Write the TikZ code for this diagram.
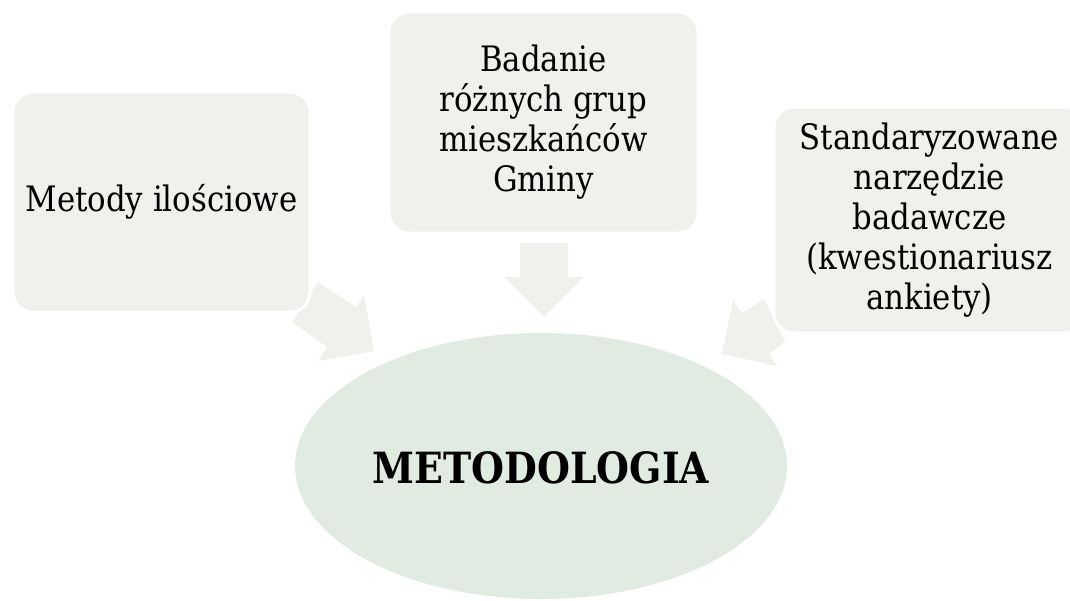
\documentclass[tikz,border=0pt]{standalone}
\usepackage{fontspec}
\setmainfont{DejaVu Serif}[FakeStretch=0.88]
\usetikzlibrary{shapes.geometric}
\definecolor{boxfill}{RGB}{240,240,236}
\definecolor{ovalfill}{RGB}{225,235,226}
\tikzset{
  box/.style={rectangle, rounded corners=20pt, fill=boxfill, draw=white, line width=3pt,
    align=center, inner sep=0pt, font=\fontsize{35}{40}\selectfont},
  blockarrow/.style={fill=boxfill, draw=none},
  oval/.style={ellipse, fill=ovalfill, draw=none, inner sep=0pt},
  ovaltext/.style={font=\fontsize{43}{48}\selectfont\bfseries}
}
\begin{document}
\begin{tikzpicture}[x=1pt,y=-1pt]
\useasboundingbox (0,0) rectangle (1070,600);
\clip (0,0) rectangle (1070,600);
% block arrows
\fill[blockarrow] (520,243) -- (568,243) -- (568,277) -- (584,277) -- (544,317) -- (504,277) -- (520,277) -- cycle;
\fill[blockarrow] (318,282) -- (356,307) -- (364,295) -- (374,351) -- (318,361) -- (327,347) -- (292,322) -- cycle;
\fill[blockarrow] (764,299) -- (742,313) -- (733,300) -- (722,354) -- (777,366) -- (769,354) -- (785,342) -- cycle;
% ellipse
\node[oval, minimum width=492pt, minimum height=266pt] (m) at (541,466) {};
\node[ovaltext] (mt) at (541,468) {METODOLOGIA};
% boxes
\node[box, minimum width=297pt, minimum height=220pt] (l) at (161.5,202) {Metody ilościowe};
\node[box, minimum width=309pt, minimum height=221pt] (c) at (543.5,122.5) {Badanie\\różnych grup\\mieszkańców\\Gminy};
\node[box, minimum width=311pt, minimum height=226pt] (r) at (929.5,220) {Standaryzowane\\narzędzie\\badawcze\\(kwestionariusz\\ankiety)};
\end{tikzpicture}
\end{document}
